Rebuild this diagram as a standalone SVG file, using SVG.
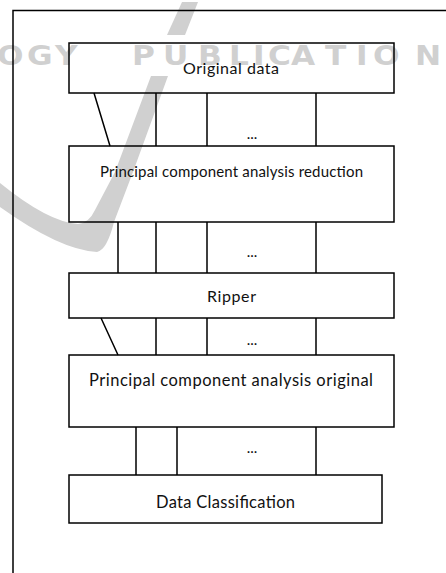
<svg xmlns="http://www.w3.org/2000/svg" width="446" height="573" viewBox="0 0 446 573">
<style>
.box{fill:none;stroke:#000;stroke-width:1.5}
.ln{fill:none;stroke:#000;stroke-width:1.5}
.t{font-family:Lato,"Open Sans","Liberation Sans",sans-serif;fill:#111;text-anchor:middle}
.wm{fill:#d0d0d0}
.wmt{font-family:"DejaVu Sans","Liberation Sans",sans-serif;font-weight:bold;font-size:26px;fill:#d0d0d0}
</style>
<rect x="0" y="0" width="446" height="573" fill="#fff"/>
<g id="watermark">
<path class="wm" d="M182,2 L198,2 L185,35 L167,35 Z"/>
<path class="wm" d="M151,76 L168,76 L133,172 L114,222 Q107,250 97,252 Q60,250 0,207 L0,183 Q48,222 78,224 Q89,223 95,210 L115,172 Z"/>
<text class="wmt" transform="scale(1.2,1)" x="-2.5 22.5 45.8 85 110 135.8 165 190.8 210.8 223.3 242.5 270.8 296.7 310.8 345.8" y="65">OGY PUBLICATION</text>
</g>
<path class="ln" d="M13,573 L13,10.5 L446,10.5"/>
<g id="connectors">
<path class="ln" d="M94,93 L110,146 M156,93 V146 M207,93 V146 M316,93 V146"/>
<path class="ln" d="M118,222 V273 M156,222 V273 M207,222 V273 M316,222 V273"/>
<path class="ln" d="M101,318 L118,355 M156,318 V355 M207,318 V355 M316,318 V355"/>
<path class="ln" d="M136,427 V475 M177,427 V475 M316,427 V475"/>
<text class="t" x="252" y="139" font-size="15">...</text>
<text class="t" x="252" y="257" font-size="15">...</text>
<text class="t" x="252" y="345" font-size="15">...</text>
<text class="t" x="252" y="453" font-size="15">...</text>
</g>
<g id="n1">
<rect class="box" x="69" y="43" width="325" height="50"/>
<text class="t" x="231" y="74" font-size="16" textLength="96">Original data</text>
</g>
<g id="n2">
<rect class="box" x="69" y="146" width="325" height="76"/>
<text class="t" x="231.5" y="177" font-size="15" textLength="263">Principal component analysis reduction</text>
</g>
<g id="n3">
<rect class="box" x="69" y="273" width="325" height="45"/>
<text class="t" x="231.5" y="302" font-size="16" textLength="49">Ripper</text>
</g>
<g id="n4">
<rect class="box" x="69" y="355" width="325" height="72"/>
<text class="t" x="231" y="386" font-size="16.5" textLength="284">Principal component analysis original</text>
</g>
<g id="n5">
<rect class="box" x="69" y="475" width="313" height="48"/>
<text class="t" x="225.5" y="508" font-size="16.5" textLength="139">Data Classification</text>
</g>
</svg>
